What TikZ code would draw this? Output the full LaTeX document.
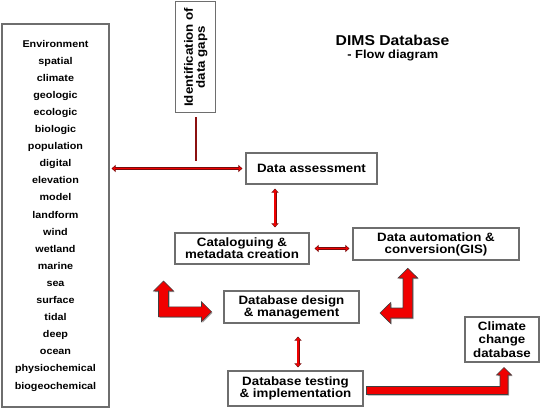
\documentclass[tikz,border=0pt]{standalone}
\usepackage{fontspec}
\setmainfont{Liberation Sans}[FakeStretch=1.1]
\usetikzlibrary{arrows.meta}
\definecolor{boxgray}{HTML}{6E6E6E}
\definecolor{darkred}{HTML}{7A0A0A}
\definecolor{linered}{HTML}{8B1010}
\definecolor{arrred}{HTML}{F00000}
\newcommand\boxfont{\bfseries\fontsize{12.1}{12}\selectfont\lineskiplimit=-20pt\relax}
\newcommand\tarr[4]{%
  \draw[darkred, line width=3pt, shorten <=#3, shorten >=#4,
        {Triangle[length=4pt,width=7pt]}-{Triangle[length=4pt,width=7pt]}] #1 -- #2;
  \draw[arrred, line width=1.2pt, shorten <=#3+1pt, shorten >=#4+1pt,
        {Triangle[length=2.6pt,width=4.2pt]}-{Triangle[length=2.6pt,width=4.2pt]}] #1 -- #2;}
\begin{document}
\begin{tikzpicture}[x=1pt,y=-1pt,
  box/.style={draw=boxgray, line width=1.2pt, fill=white, align=center, inner sep=0pt, font=\boxfont},
  bigarr/.style={fill=arrred, draw=black!75, line width=0.6pt, line join=miter},
  shad/.style={fill=black!35, draw=none}]
\useasboundingbox (0,0) rectangle (543,409);

% nodes
\node[box, minimum width=107pt, minimum height=383pt,
      font=\bfseries\fontsize{9.8}{17.1}\selectfont] (list) at (55.5,215.5)
  {Environment\\spatial\\climate\\geologic\\ecologic\\biologic\\population\\digital\\elevation\\model\\landform\\wind\\wetland\\marine\\sea\\surface\\tidal\\deep\\ocean\\physiochemical\\biogeochemical};
\node[box, rotate=90, minimum width=111pt, minimum height=40pt] (id) at (195.7,57.2)
  {Identification of\\data gaps};
\node[box, minimum width=131pt, minimum height=31pt] (da) at (311.5,168.5) {Data assessment};
\node[box, minimum width=134pt, minimum height=31pt] (cat) at (242,248.5) {Cataloguing \&\\metadata creation};
\node[box, minimum width=166pt, minimum height=32pt] (auto) at (436,244) {Data automation \&\\conversion(GIS)};
\node[box, minimum width=135pt, minimum height=32pt] (design) at (291.5,307) {Database design\\\& management};
\node[box, minimum width=135pt, minimum height=35pt] (test) at (295.5,388.5) {Database testing\\\& implementation};
\node[box, minimum width=74pt, minimum height=45pt, font=\bfseries\fontsize{12.1}{13.3}\selectfont] (clim) at (502,339.5) {Climate\\change\\database};
\node[font=\bfseries\fontsize{14.3}{16}\selectfont] (title) at (392.5,40.7) {DIMS Database};
\node[font=\bfseries\fontsize{11.7}{13}\selectfont] (sub) at (392.8,56) {- Flow diagram};

% thin connectors
\draw[linered, line width=1.6pt, shorten <=4pt] (id.west) -- ++(0,47.3) coordinate (idend);
\tarr{(list.east |- da.west)}{(da.west)}{2pt}{3pt}
\tarr{([xshift=-36.5pt]da.south)}{([xshift=-36.5pt]da.south |- cat.north)}{4pt}{5pt}
\tarr{(cat.east)}{(cat.east -| auto.west)}{5pt}{3pt}
\tarr{([xshift=6.5pt]design.south)}{([xshift=6.5pt]design.south |- test.north)}{13pt}{3pt}

% block arrows
\begin{scope}[shift={(1,1)}]
\fill[shad] (163.5,281) -- (173.5,291) -- (168.5,291) -- (168.5,306.8) -- (201.5,306.8) -- (201.5,301.8) -- (211.5,311.8) -- (201.5,321.8) -- (201.5,316.8) -- (158.5,316.8) -- (158.5,291) -- (153.5,291) -- cycle;
\fill[shad] (407.8,268.3) -- (417.6,278) -- (412.7,278) -- (412.7,318) -- (390.7,318) -- (390.7,323.5) -- (380,313) -- (390.7,302.5) -- (390.7,308) -- (403,308) -- (403,278) -- (398,278) -- cycle;
\fill[shad] (366.5,386.5) -- (500,386.5) -- (500,375) -- (496.5,375) -- (504,367.5) -- (511.5,375) -- (508,375) -- (508,394.5) -- (366.5,394.5) -- cycle;
\end{scope}
\path[bigarr] (163.5,281) -- (173.5,291) -- (168.5,291) -- (168.5,306.8) -- (201.5,306.8) -- (201.5,301.8) -- (211.5,311.8) -- (201.5,321.8) -- (201.5,316.8) -- (158.5,316.8) -- (158.5,291) -- (153.5,291) -- cycle;
\path[bigarr] (407.8,268.3) -- (417.6,278) -- (412.7,278) -- (412.7,318) -- (390.7,318) -- (390.7,323.5) -- (380,313) -- (390.7,302.5) -- (390.7,308) -- (403,308) -- (403,278) -- (398,278) -- cycle;
\path[bigarr] (366.5,386.5) -- (500,386.5) -- (500,375) -- (496.5,375) -- (504,367.5) -- (511.5,375) -- (508,375) -- (508,394.5) -- (366.5,394.5) -- cycle;
\end{tikzpicture}
\end{document}
